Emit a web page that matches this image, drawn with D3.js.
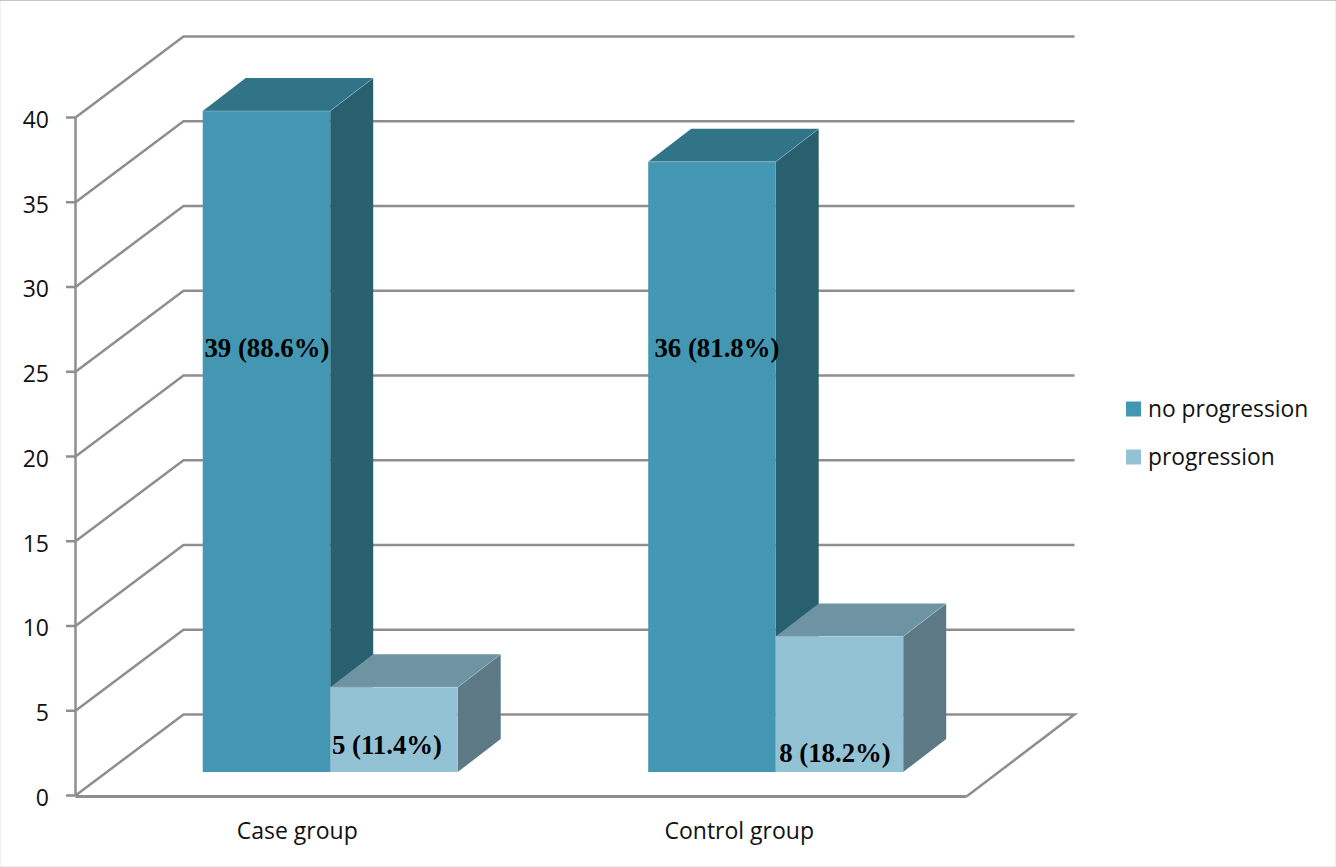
<!DOCTYPE html>
<html>
<head>
<meta charset="utf-8">
<script src="https://cdnjs.cloudflare.com/ajax/libs/d3/7.8.5/d3.min.js"></script>
<style>
html,body{margin:0;padding:0;background:#fff;overflow:hidden}
svg{display:block}
text{font-family:"Open Sans",sans-serif;fill:#111}
.val{font-family:"Liberation Serif",serif;font-weight:bold;fill:#000}
</style>
</head>
<body>
<svg id="chart" width="1336" height="867"></svg>
<script>
const categories = ["Case group", "Control group"];
const seriesNames = ["no progression", "progression"];
const noProgression = [39, 36];
const progression = [5, 8];
const noProgressionLabels = ["39 (88.6%)", "36 (81.8%)"];
const progressionLabels = ["5 (11.4%)", "8 (18.2%)"];
const yTicks = [0, 5, 10, 15, 20, 25, 30, 35, 40];

const svg = d3.select("#chart");
const W = 1336, H = 867;

// Frame of the picture
svg.append("rect").attr("x", 0.5).attr("y", 0.5).attr("width", W - 1).attr("height", H - 1)
  .attr("fill", "#fff").attr("stroke", "#f0f0f0");
svg.append("line").attr("x1", 0).attr("x2", W).attr("y1", 0.5).attr("y2", 0.5)
  .attr("stroke", "#c4c4c4");

// Front plane of the 3D box
const y = d3.scaleLinear().domain([0, 40]).range([795.5, 117.5]);
const x = d3.scaleBand().domain(categories).range([75.5, 966.5]);
const wallDx = 108, wallDy = -81;      // floor depth
const barZ = 0.296;                    // share of the depth where bars stand
const barDx = 43, barDy = -33;         // depth of a bar
const shiftX = wallDx * barZ, shiftY = wallDy * barZ + 0.5;
const barW = 127.5;

const gridColor = "#8e8e8e";
const grid = svg.append("g").attr("fill", "none").attr("stroke", gridColor)
  .attr("stroke-width", 2.5).attr("stroke-linejoin", "miter");

// Side wall and back wall lines
yTicks.forEach(t => {
  if (t === 0) return;
  grid.append("path").attr("d", d3.line()([
    [75.5, y(t)], [75.5 + wallDx, y(t) + wallDy], [966.5 + wallDx, y(t) + wallDy]
  ]));
});
// Floor outline
grid.append("path").attr("d", d3.line()([
  [75.5, y(0)], [75.5 + wallDx, y(0) + wallDy], [966.5 + wallDx, y(0) + wallDy], [966.5, y(0) + 1]
]));
grid.append("path").attr("stroke-width", 3.2).attr("d", d3.line()([[75.5, y(0) + 1], [966.5, y(0) + 1]]));
// Vertical axis and ticks
grid.append("path").attr("d", d3.line()([[75.5, y(40)], [75.5, y(0)]]));
yTicks.forEach(t => {
  grid.append("line").attr("x1", 66).attr("x2", 75.5).attr("y1", y(t)).attr("y2", y(t));
  svg.append("text").attr("x", 49).attr("y", y(t) + 2).attr("dy", "0.36em")
    .attr("text-anchor", "end").attr("font-size", 23).text(t);
});

// One 3D bar: top, side, front
function bar(g, left, value, front, top, side) {
  const base = y(0) + shiftY;
  const ty = y(value) + shiftY;
  const r = left + barW;
  const edge = "#cfe3ea";
  g.append("path").attr("fill", top).attr("d", d3.line()([
    [left, ty], [left + barDx, ty + barDy], [r + barDx, ty + barDy], [r, ty]
  ]) + "Z");
  g.append("path").attr("fill", side).attr("d", d3.line()([
    [r, ty], [r + barDx, ty + barDy], [r + barDx, base + barDy], [r, base]
  ]) + "Z");
  g.append("rect").attr("x", left).attr("y", ty).attr("width", barW).attr("height", base - ty)
    .attr("fill", front);
  g.append("path").attr("fill", "none").attr("stroke", edge).attr("stroke-opacity", 0.35)
    .attr("d", d3.line()([[left, ty], [r, ty], [r + barDx, ty + barDy]]));
}

const bars = svg.append("g");
const midOf = c => x(c) + x.bandwidth() / 2 + shiftX;
categories.forEach((c, i) => {
  bar(bars, midOf(c) - barW, noProgression[i], "#4397b2", "#317487", "#28606f");
  bar(bars, midOf(c), progression[i], "#93c2d5", "#6e93a2", "#5d7985");
});

// Value labels and category names
categories.forEach((c, i) => {
  svg.append("text").attr("class", "val").attr("x", midOf(c) - barW / 2 + (i ? 5 : 0.5)).attr("y", 357)
    .attr("text-anchor", "middle").attr("font-size", 26.8).text(noProgressionLabels[i]);
  svg.append("text").attr("class", "val").attr("x", midOf(c) + barW / 2 + (i ? -4.5 : -7)).attr("y", i ? 762 : 754)
    .attr("text-anchor", "middle").attr("font-size", 26.8).text(progressionLabels[i]);
  svg.append("text").attr("x", x(c) + x.bandwidth() / 2 + (i ? -4.5 : -1)).attr("y", 839)
    .attr("text-anchor", "middle").attr("font-size", 23).text(c);
});

// Legend
const legendColors = ["#4397b2", "#93c2d5"];
seriesNames.forEach((s, i) => {
  const ly = 409 + i * 48;
  svg.append("rect").attr("x", 1126).attr("y", ly - 7.5).attr("width", 15).attr("height", 15)
    .attr("fill", legendColors[i]);
  svg.append("text").attr("x", 1148).attr("y", ly).attr("dy", "0.36em")
    .attr("font-size", 22.8).text(s);
});
</script>
</body>
</html>
